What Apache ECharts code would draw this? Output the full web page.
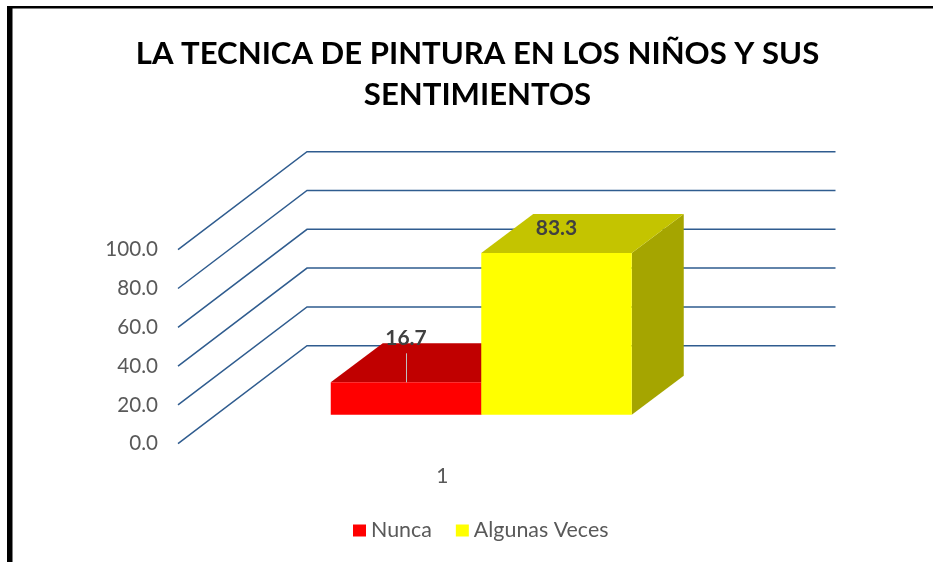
<!DOCTYPE html>
<html>
<head>
<meta charset="utf-8">
<style>html,body{margin:0;padding:0;background:#fff}#c{width:933px;height:562px}</style>
<script src="https://cdn.jsdelivr.net/npm/echarts@6/dist/echarts.min.js"></script>
</head>
<body>
<div id="c"></div>
<script>
const titleText = 'LA TECNICA DE PINTURA EN LOS NIÑOS Y SUS\nSENTIMIENTOS';
const categories = ['1'];
const seriesNames = ['Nunca', 'Algunas Veces'];
const nunca = [16.7];
const algunasVeces = [83.3];
const tickValues = [0, 20, 40, 60, 80, 100];

const FONT = 'Lato';
const WALL = { dx: 129, dy: -98 };
const DEPTH = { dx: 52, dy: -39 };
const FLOOR = { dx: 39, dy: -29 };
const BAR_W = 150.5;

const chart = echarts.init(document.getElementById('c'), null, { renderer: 'canvas' });

function gridLine(params, api) {
  const p = api.coord([0, api.value(0)]);
  const x0 = params.coordSys.x;
  const w = params.coordSys.width;
  const y = p[1];
  return {
    type: 'polyline',
    shape: { points: [[x0, y], [x0 + WALL.dx, y + WALL.dy], [x0 + WALL.dx + w, y + WALL.dy]] },
    style: { stroke: '#2F5C8F', lineWidth: 1.5, fill: null }
  };
}

function bar3d(slot, front, top, side, lift, leader) {
  return function (params, api) {
    const c = api.coord([api.value(0), api.value(1)]);
    const z = api.coord([api.value(0), 0]);
    const x0 = c[0] + FLOOR.dx + slot * BAR_W;
    const x1 = x0 + BAR_W;
    const yb = z[1] + FLOOR.dy;
    const yt = c[1] + FLOOR.dy;
    const d = DEPTH;
    const children = [
      { type: 'polygon', shape: { points: [[x1, yb], [x1 + d.dx, yb + d.dy], [x1 + d.dx, yt + d.dy], [x1, yt]] }, style: { fill: side } },
      { type: 'polygon', shape: { points: [[x0, yt], [x0 + d.dx, yt + d.dy], [x1 + d.dx, yt + d.dy], [x1, yt]] }, style: { fill: top } },
      { type: 'rect', shape: { x: x0, y: yt, width: BAR_W, height: yb - yt }, style: { fill: front } }
    ];
    const xm = (x0 + x1) / 2;
    if (leader) {
      children.push({ type: 'line', shape: { x1: xm + 0.5, y1: yt - leader, x2: xm + 0.5, y2: yt }, style: { stroke: '#BFBFBF', lineWidth: 1 } });
    }
    children.push({
      type: 'text',
      style: {
        text: api.value(1).toFixed(1), x: xm, y: yt - lift,
        align: 'center', verticalAlign: 'middle',
        font: 'bold 21px ' + FONT, fill: '#404040'
      }
    });
    return { type: 'group', children };
  };
}

chart.setOption({
  animation: false,
  backgroundColor: '#fff',
  title: {
    text: titleText,
    left: 472.5, top: 28, textAlign: 'center',
    textStyle: { fontFamily: FONT, fontWeight: 'bold', fontSize: 31.1, lineHeight: 41, color: '#000' }
  },
  legend: {
    data: seriesNames.map(n => ({ name: n, icon: 'rect' })),
    left: 348, top: 515,
    itemWidth: 13, itemHeight: 12, itemGap: 24,
    selectedMode: false,
    textStyle: { fontFamily: FONT, fontSize: 21.4, color: '#595959' }
  },
  grid: { left: 178, top: 249.7, width: 528.5, height: 194 },
  xAxis: {
    type: 'category', data: categories,
    axisLine: { show: false }, axisTick: { show: false }, splitLine: { show: false },
    axisLabel: { fontFamily: FONT, fontSize: 21, color: '#595959', margin: 22 }
  },
  yAxis: {
    type: 'value', min: 0, max: 100, interval: 20,
    axisLine: { show: false }, axisTick: { show: false }, splitLine: { show: false },
    axisLabel: { fontFamily: FONT, fontSize: 20.6, color: '#595959', margin: 20, formatter: v => v.toFixed(1) }
  },
  graphic: [
    { type: 'rect', silent: true, shape: { x: 7, y: 6, width: 926, height: 2.5 }, style: { fill: '#000' } },
    { type: 'rect', silent: true, shape: { x: 7, y: 6, width: 5.5, height: 556 }, style: { fill: '#000' } }
  ],
  series: [
    {
      type: 'custom', name: 'grid', silent: true, clip: false, z: 1,
      coordinateSystem: 'cartesian2d', renderItem: gridLine,
      encode: { y: 0 }, data: tickValues.map(v => [v])
    },
    {
      type: 'custom', name: seriesNames[0], silent: true, clip: false, z: 2,
      renderItem: bar3d(-1, '#FF0000', '#C00000', '#A00000', 44, 29),
      itemStyle: { color: '#FF0000' },
      encode: { x: 0, y: 1 }, data: nunca.map((v, i) => [i, v])
    },
    {
      type: 'custom', name: seriesNames[1], silent: true, clip: false, z: 3,
      renderItem: bar3d(0, '#FFFF00', '#C4C400', '#A5A500', 25, 0),
      itemStyle: { color: '#FFFF00' },
      encode: { x: 0, y: 1 }, data: algunasVeces.map((v, i) => [i, v])
    }
  ]
});
</script>
</body>
</html>
